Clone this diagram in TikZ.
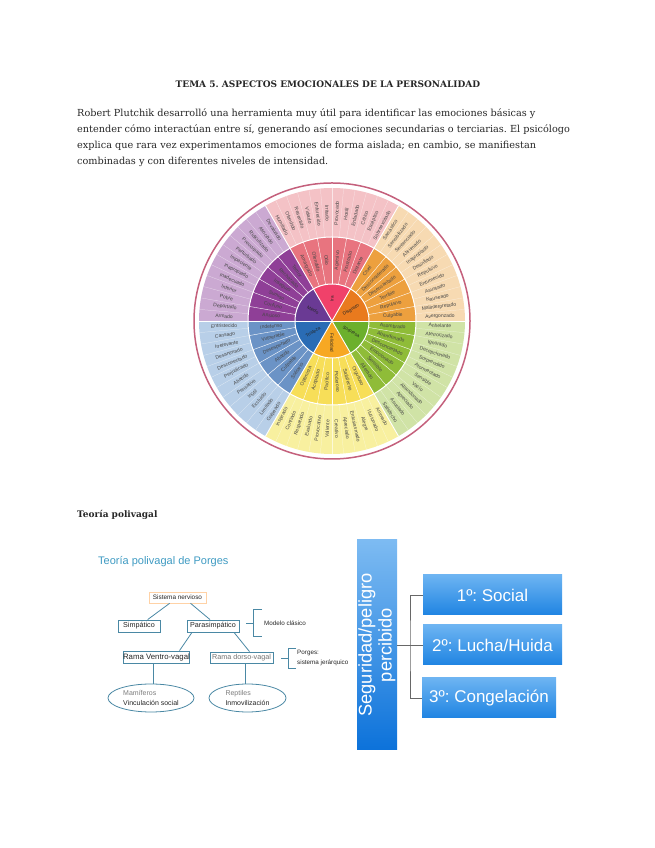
\documentclass[tikz,border=0pt]{standalone}
\usepackage{fontspec}
\setmainfont{DejaVu Serif}
\setsansfont{Liberation Sans}
\usetikzlibrary{positioning,calc,shapes.geometric}
\definecolor{ink}{HTML}{262626}
\definecolor{teal}{HTML}{3E9AC2}
\definecolor{slate}{HTML}{4A88A4}
\definecolor{rim}{HTML}{C4607C}
\definecolor{barlight}{HTML}{7DBBF2}
\definecolor{bardark}{HTML}{0C72DA}
\definecolor{boxlight}{HTML}{6DB4F2}
\definecolor{boxdark}{HTML}{1F84E2}
\definecolor{redcore}{HTML}{F0416A}
\definecolor{redmid}{HTML}{E8747F}
\definecolor{redout}{HTML}{F4C2C6}
\definecolor{purplecore}{HTML}{6A3A94}
\definecolor{purplemid}{HTML}{8F3F97}
\definecolor{purpleout}{HTML}{CBA9D2}
\definecolor{bluecore}{HTML}{2A6CB5}
\definecolor{bluemid}{HTML}{6B93C6}
\definecolor{blueout}{HTML}{B8CFE8}
\definecolor{yellowcore}{HTML}{F7A823}
\definecolor{yellowmid}{HTML}{F7DE58}
\definecolor{yellowout}{HTML}{F8F09F}
\definecolor{greencore}{HTML}{6CB02C}
\definecolor{greenmid}{HTML}{8FBC38}
\definecolor{greenout}{HTML}{D0E3A6}
\definecolor{orangecore}{HTML}{E97A1E}
\definecolor{orangemid}{HTML}{EDA03E}
\definecolor{orangeout}{HTML}{F7DAB2}
\tikzset{
  heading/.style={font=\rmfamily\bfseries\frenchspacing\fontsize{9}{10}\selectfont, text=ink, inner sep=0pt},
  bodytext/.style={font=\rmfamily\frenchspacing\fontsize{9.7}{16}\selectfont, text=ink, align=left, inner sep=0pt, anchor=north west},
  wheeltext/.style={font=\sffamily\fontsize{5}{5}\selectfont, text=ink!85, inner sep=0pt},
  corelabel/.style={font=\sffamily\fontsize{4.6}{5}\selectfont, text=ink, inner sep=0pt},
  spoke/.style={draw=white, line width=0.9pt},
  chartbox/.style={draw=slate, fill=white, line width=0.8pt, inner sep=0pt, font=\sffamily\fontsize{7.2}{8}\selectfont, text=ink},
  chartoval/.style={ellipse, draw=slate, fill=white, line width=0.8pt, inner sep=0pt, align=left, font=\sffamily\fontsize{7}{9.5}\selectfont, text=ink},
  chartline/.style={draw=slate, line width=0.8pt},
  chartnote/.style={font=\sffamily\fontsize{6.3}{10}\selectfont, text=ink, inner sep=0pt, align=left},
  bluebox/.style={top color=boxlight, bottom color=boxdark, draw=none, inner sep=0pt, text=white, font=\sffamily\frenchspacing\fontsize{17}{20}\selectfont},
  branch/.style={draw=ink!70, line width=0.6pt}
}
% start angle, three ring colours, centre word, ring labels counter-clockwise
\newcommand{\wheelsector}[8]{%
  \fill[#2] (0,0) -- (#1:37) arc (#1:#1+60:37) -- cycle;
  \fill[#3] (#1:37) arc (#1:#1+60:37) -- (#1+60:84) arc (#1+60:#1:84) -- cycle;
  \fill[#4] (#1:84) arc (#1:#1+60:84) -- (#1+60:133) arc (#1+60:#1:133) -- cycle;
  \foreach \k in {1,...,5}
    \draw[white, line width=0.4pt] (#1+\k*10:37) -- (#1+\k*10:84);
  \foreach \k in {1,...,11}
    \draw[white, opacity=0.6, line width=0.25pt] (#1+\k*5:84) -- (#1+\k*5:133);
  \foreach \lab [count=\i] in {#7} {
    \pgfmathsetmacro{\ang}{#1+(\i-0.5)*10}
    \pgfmathsetmacro{\rot}{cos(\ang)<0 ? \ang+180 : \ang}
    \node[wheeltext, rotate=\rot] (mid#8\i) at (\ang:61) {\lab};
  }
  \foreach \lab [count=\i] in {#6} {
    \pgfmathsetmacro{\ang}{#1+(\i-0.5)*5}
    \pgfmathsetmacro{\rot}{cos(\ang)<0 ? \ang+180 : \ang}
    \node[wheeltext, rotate=\rot] (out#8\i) at (\ang:108) {\lab};
  }
  \pgfmathsetmacro{\ang}{#1+30}
  \pgfmathsetmacro{\rot}{cos(\ang)<0 ? \ang+180 : \ang}
  \node[corelabel, rotate=\rot] (core#8) at (\ang:22) {#5};
}
\begin{document}
\begin{tikzpicture}[x=1pt,y=1pt]
  \useasboundingbox (0,0) rectangle (655,848);
  \node[heading] (titulo) at (328,764) {TEMA 5. ASPECTOS EMOCIONALES DE LA PERSONALIDAD};
  \node[bodytext] (intro) at (77,739) {Robert Plutchik desarrolló una herramienta muy útil para identificar las emociones básicas y\\
    entender cómo interactúan entre sí, generando así emociones secundarias o terciarias. El psicólogo\\
    explica que rara vez experimentamos emociones de forma aislada; en cambio, se manifiestan\\
    combinadas y con diferentes niveles de intensidad.};
  \begin{scope}[shift={(332,527)}]
    \draw[rim, line width=1.5pt] (0,0) circle (138);
    \wheelsector{60}{redcore}{redmid}{redout}{Ira}
      {Sobreexcitado,Escéptico,Crítico,Enfadado,Hostil,Provocado,Irritado,Enfurecido,Violado,Resentido,Ofendido,Humillado}
      {Distante,Frustrado,Agresivo,Odio,Ofendido,Amargado}{a}
    \wheelsector{120}{purplecore}{purplemid}{purpleout}{Miedo}
      {Devaluado,Asociado,Ridiculizado,Preocupado,Perturbado,Impaciente,Inapropiado,Inadecuado,Inferior,Pobre,Deportado,Armado}
      {Temor,Rechazado,Inseguro,Sumiso,Confuso,Ansioso}{b}
    \wheelsector{180}{bluecore}{bluemid}{blueout}{Tristeza}
      {Entristecido,Cansado,Irrelevante,Desanimado,Desconectado,Perjudicado,Abatido,Pensativo,Inútil,Excluido,Limitado,Golpeado}
      {Indefenso,Vulnerable,Desesperado,Abatido,Culpable,Solitario}{c}
    \wheelsector{240}{yellowcore}{yellowmid}{yellowout}{Felicidad}
      {Inspirado,Confiado,Respetado,Evaluado,Provocativo,Valiente,Creativo,Apreciado,Entusiasmado,Alegre,Ilusionado,Animado}
      {Optimista,Aceptado,Pacífico,Poderoso,Satisfecho,Orgulloso}{d}
    \wheelsector{300}{greencore}{greenmid}{greenout}{Sorpresa}
      {Satisfecho,Asustado,Apreciado,Abandonado,Vacío,Sensible,Atormentado,Sorprendido,Decepcionado,Ignorado,Aterrorizado,Anhelante}
      {Alterado,Sensible,Emocionado,Desconcertado,Abandonado,Asombrado}{e}
    \wheelsector{0}{orangecore}{orangemid}{orangeout}{Disgusto}
      {Avergonzado,Malinterpretado,Nauseado,Asustado,Entumecido,Repulsivo,Desinflado,Inapropiado,Abrumado,Sentenciado,Sensibilizado,Sarcástico}
      {Culpable,Repulsivo,Terrible,Desencantado,Desconsiderado,Cruel}{f}
    \draw[white, line width=1pt] (0,0) circle (37);
    \draw[white, line width=1pt] (0,0) circle (84);
    \foreach \a in {0,60,...,300}
      \draw[spoke] (0,0) -- (\a:133);
  \end{scope}
  \node[heading, anchor=west] (teoria) at (77,333) {Teoría polivagal};
  % Porges chart
  \node[font=\sffamily\fontsize{11}{12}\selectfont, text=teal, anchor=west, inner sep=0pt] (porges) at (98,286.5) {Teoría polivagal de Porges};
  \node[chartbox, draw=orange!35, line width=0.6pt, minimum width=57pt, minimum height=11pt, font=\sffamily\fontsize{6.4}{8}\selectfont] (sistema) at (177.5,250.5) {Sistema nervioso};
  \node[chartbox, minimum width=42pt, minimum height=12pt] (simpatico) at (139,222) {Simpático};
  \node[chartbox, minimum width=52pt, minimum height=12pt] (parasimpatico) at (213,222) {Parasimpático};
  \node[chartbox, minimum width=65pt, minimum height=12pt, font=\sffamily\fontsize{7.8}{9}\selectfont] (ventro) at (156.5,191) {Rama Ventro-vagal};
  \node[chartbox, minimum width=63pt, minimum height=11pt, text=ink!65] (dorso) at (241.5,190.5) {Rama dorso-vagal};
  \node[chartoval, minimum width=86pt, minimum height=28pt] (mamiferos) at (151,150) {\textcolor{ink!60}{Mamíferos}\\Vinculación social};
  \node[chartoval, minimum width=77pt, minimum height=28pt] (reptiles) at (247.5,150) {\textcolor{ink!60}{Reptiles}\\Inmovilización};
  \draw[chartline] (sistema) -- (simpatico);
  \draw[chartline] ([xshift=13pt]sistema.south) -- ([xshift=-3pt]parasimpatico.north);
  \draw[chartline] ([xshift=-21pt]parasimpatico.south) -- ([xshift=23pt]ventro.north);
  \draw[chartline] ([xshift=21pt]parasimpatico.south) -- ([xshift=8pt]dorso.north);
  \draw[chartline] ([xshift=-3pt]ventro.south) -- ([xshift=-3pt]ventro.south |- mamiferos.north);
  \draw[chartline] ([xshift=4pt]dorso.south) -- ([xshift=4pt]dorso.south |- reptiles.north);
  \node[chartnote, anchor=west] (clasico) at (264,225) {Modelo clásico};
  \node[chartnote, anchor=west] (jerarquico) at (297,190) {Porges:\\sistema jerárquico};
  \coordinate (clasicotick) at (246,225);
  \coordinate (jerarquicotick) at (281,190);
  \draw[chartline] (clasicotick) -- ++(7,0) ++(9,13.5) -- ++(-9,0) -- ++(0,-27) -- ++(9,0);
  \draw[chartline] (jerarquicotick) -- ++(7,0) ++(8,10) -- ++(-8,0) -- ++(0,-20) -- ++(8,0);
  % right panel
  \node[top color=barlight, bottom color=bardark, minimum width=40pt, minimum height=210pt, inner sep=0pt] (barra) at (377,203) {};
  \node[rotate=90, font=\sffamily\fontsize{18.3}{20}\selectfont, text=white, align=center, inner sep=0pt] (barratexto) at (barra.center) {Seguridad/peligro\\percibido};
  \node[bluebox, minimum width=139pt, minimum height=40pt] (social) at (492.5,253) {1º: Social};
  \node[bluebox, minimum width=139pt, minimum height=40pt] (lucha) at (492.5,203) {2º: Lucha/Huida};
  \node[bluebox, minimum width=134pt, minimum height=40pt] (congelacion) at (489,150) {3º: Congelación};
  \coordinate (tronco) at (410,203);
  \draw[branch] (barra.east |- lucha) -- (lucha.west);
  \draw[branch] (social.west) -| (tronco) |- (congelacion.west);
\end{tikzpicture}
\end{document}
